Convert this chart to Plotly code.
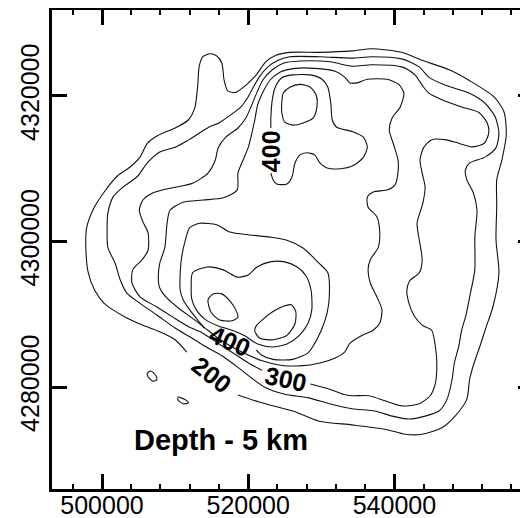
import plotly.graph_objects as go

# ---- data (km) ----
# contour 200 (outermost) – gap where the "200" label sits
c200 = [(518.6,4278.9),(521.6,4277.9),(526.1,4276.7),(529.7,4275.3),(534.2,4274.8),(538.7,4274.2),(541.5,4273.5),(543.8,4273.5),
        (546.5,4274.4),(548.3,4276.0),(549.9,4278.3),(550.3,4281.1),(550.9,4283.3),(551.7,4285.6),(552.5,4288.1),(553.5,4291.1),
        (554.3,4295.7),(553.9,4300.2),(554.0,4304.9),(554.0,4308.5),(554.7,4311.2),(555.3,4314.6),(555.0,4317.8),(553.6,4319.9),
        (550.3,4322.1),(547.5,4323.6),(543.8,4324.9),(541.0,4326.0),(536.9,4326.5),(534.2,4326.2),(529.8,4326.0),(525.7,4326.0),
        (523.8,4325.6),(522.4,4324.7),(521.1,4322.9),(519.7,4321.5),(518.3,4320.5),(517.2,4320.7),(516.7,4322.2),(516.4,4324.5),
        (515.7,4325.5),(514.8,4325.8),(513.8,4325.4),(513.3,4324.1),(513.1,4321.5),(512.7,4318.4),(511.8,4316.7),(510.0,4315.6),
        (507.7,4314.6),(506.2,4313.5),(505.2,4311.6),(503.8,4310.2),(502.1,4309.0),(500.3,4306.8),(498.9,4304.6),(497.9,4301.9),
        (497.8,4298.8),(498.1,4295.8),(499.0,4293.3),(500.3,4291.5),(501.5,4290.6),(503.4,4289.5),(505.6,4288.5),(507.9,4287.6),
        (510.0,4286.5),(511.6,4284.8)]
c200_small_a = [(506.2,4281.9),(506.7,4282.2),(507.4,4281.5),(507.5,4281.0),(507.0,4280.8),(506.3,4281.4),(506.2,4281.9)]
c200_small_b = [(510.4,4278.6),(511.5,4278.2),(511.8,4277.8),(511.1,4277.7),(510.4,4278.2),(510.4,4278.6)]

c250 = [(505.2,4291.5),(507.5,4289.9),(510.0,4288.1),(512.0,4286.9),(514.1,4285.6),(516.4,4284.3),(518.6,4282.7),(520.5,4281.2),
        (522.4,4279.9),(525.0,4279.0),(528.3,4278.5),(531.1,4277.7),(534.2,4277.0),(537.3,4276.7),(539.7,4276.0),(542.0,4275.6),
        (544.2,4276.0),(546.1,4276.7),(547.2,4278.3),(547.9,4281.1),(548.2,4283.3),(548.8,4285.6),(549.2,4287.8),(549.8,4289.9),
        (550.3,4292.4),(551.0,4296.1),(551.0,4300.6),(551.3,4304.3),(550.8,4306.7),(549.9,4308.5),(549.7,4309.8),(550.3,4310.8),
        (552.4,4311.6),(553.9,4312.9),(554.3,4314.9),(553.8,4317.1),(552.4,4319.0),(550.2,4320.4),(546.9,4321.5),(544.7,4322.6),
        (543.4,4324.0),(541.0,4325.1),(536.9,4325.4),(534.2,4325.2),(529.8,4325.4),(525.7,4325.4),(524.1,4324.9),(522.7,4324.0),
        (521.5,4322.6),(520.7,4321.2),(520.0,4319.9),(519.0,4318.5),(517.6,4317.4),(516.0,4316.3),(514.6,4315.7),(511.9,4314.0),
        (510.1,4313.0),(507.9,4312.3),(506.2,4310.8),(504.8,4308.9),(502.9,4307.5),(501.5,4306.1),(500.8,4303.9),(500.7,4302.0),
        (500.8,4299.2),(501.8,4297.0),(502.5,4294.7),(503.4,4292.9),(505.2,4291.5)]

c300 = [(528.5,4280.4),(531.1,4279.7),(533.0,4279.0),(534.2,4278.8),(536.5,4278.8),(538.7,4278.1),(541.0,4277.4),(543.4,4277.7),
        (544.9,4278.8),(545.6,4280.5),(545.8,4283.3),(545.6,4285.6),(545.1,4287.8),(543.8,4288.5),(542.7,4289.8),(542.0,4291.5),
        (541.7,4293.3),(542.1,4294.6),(543.4,4295.7),(543.8,4297.5),(543.4,4300.2),(543.1,4302.5),(543.9,4305.3),(544.2,4307.5),
        (543.8,4309.4),(543.5,4311.2),(544.0,4312.9),(545.1,4314.0),(546.9,4314.0),(548.8,4313.5),(550.6,4313.0),(552.3,4313.5),
        (552.9,4314.9),(552.7,4316.3),(551.6,4317.7),(549.2,4318.5),(546.5,4319.5),(544.7,4320.4),(544.0,4321.2),(542.8,4322.9),
        (541.0,4324.0),(536.9,4324.3),(534.2,4324.1),(531.2,4324.7),(527.1,4324.8),(524.8,4324.5),(523.3,4323.6),(522.0,4322.2),
        (521.2,4320.5),(520.5,4318.8),(519.7,4317.0),(518.6,4315.6),(517.0,4314.4),(515.9,4312.9),(515.5,4311.2),(514.5,4309.4),
        (512.4,4308.0),(509.7,4307.4),(507.0,4306.7),(505.6,4305.7),(505.1,4304.3),(505.6,4302.7),(506.3,4301.2),(506.3,4298.8),
        (505.5,4297.5),(504.2,4296.1),(504.1,4294.3),(505.2,4292.4),(507.5,4291.0),(509.7,4289.6),(512.0,4288.2),(513.8,4287.4),
        (515.9,4286.0),(518.2,4284.5),(520.2,4283.2),(521.9,4282.3)]

c350 = [(533.9,4321.8),(534.9,4321.8),(536.3,4322.3),(539.0,4322.3),(540.6,4321.6),(541.3,4320.4),(540.8,4318.5),(539.7,4317.0),
        (539.3,4315.3),(539.9,4313.3),(540.5,4311.2),(540.5,4309.6),(540.1,4307.8),(539.1,4307.1),(537.1,4306.8),(536.3,4306.1),
        (536.4,4304.7),(537.6,4303.4),(538.0,4301.2),(537.8,4299.2),(536.7,4297.5),(536.4,4296.1),(536.7,4294.3),(537.6,4292.4),
        (538.3,4290.6),(538.0,4288.8),(537.1,4287.8),(535.6,4287.1),(533.9,4286.0),(533.2,4284.8),(531.9,4284.0),(529.8,4283.3),
        (527.1,4282.9),(524.4,4283.0),(521.9,4283.6),(520.0,4284.4),(517.8,4285.5),(515.9,4286.7),(514.1,4288.1),(512.3,4289.5),
        (510.4,4290.9),(508.9,4292.2),(507.9,4293.6),(507.7,4295.1),(507.9,4297.0),(508.6,4299.2),(508.9,4302.5),(509.3,4304.3),
        (511.1,4305.4),(513.8,4305.7),(516.6,4306.0),(518.5,4307.1),(518.6,4309.4),(519.3,4311.2),(520.0,4312.9),(520.5,4314.9),
        (520.9,4316.7),(521.3,4318.8),(522.0,4320.5),(523.0,4322.2),(524.4,4323.3),(526.4,4323.8),(529.1,4323.8),(531.9,4323.4),
        (533.2,4322.6),(533.9,4321.8)]

c400_low = [(521.1,4285.1),(521.8,4284.4),(523.4,4283.8),(526.1,4283.8),(528.2,4284.7),(529.1,4286.0),(530.0,4287.8),(530.8,4290.2),
            (531.1,4292.5),(530.9,4295.7),(529.7,4297.0),(527.5,4299.1),(525.2,4300.2),(523.0,4300.6),(520.2,4300.9),(517.5,4301.3),
            (515.7,4302.3),(513.4,4302.5),(512.0,4301.9),(511.4,4300.2),(510.9,4297.9),(510.7,4295.7),(510.7,4293.3),(511.1,4292.0),
            (512.0,4290.6),(513.1,4289.2),(514.0,4288.1)]
c400_top = [(523.1,4309.4),(523.4,4308.5),(523.9,4307.9),(525.3,4307.9),(526.0,4308.9),(526.4,4310.8),(527.1,4311.9),(528.0,4312.2),
            (529.1,4311.9),(529.8,4310.8),(530.8,4310.1),(532.6,4310.0),(534.3,4310.4),(535.7,4311.5),(536.3,4313.0),(535.7,4314.4),
            (534.3,4315.1),(532.1,4315.7),(531.5,4316.7),(531.3,4319.0),(530.9,4321.2),(530.1,4322.3),(528.5,4322.9),(526.1,4322.9),
            (524.6,4322.5),(523.7,4321.2),(523.3,4319.5),(523.1,4317.0),(523.1,4315.6)]

c450_low = [(512.4,4295.7),(514.4,4296.5),(516.6,4296.1),(518.5,4295.1),(520.0,4295.4),(521.2,4296.5),(523.0,4297.2),(525.0,4297.2),
            (526.7,4296.5),(527.9,4295.3),(528.6,4293.3),(528.7,4290.6),(528.2,4288.8),(527.0,4287.1),(525.3,4285.9),(523.3,4285.5),
            (521.3,4285.9),(519.6,4287.0),(517.8,4287.8),(515.9,4288.4),(514.1,4289.3),(512.9,4290.6),(512.3,4292.0),(512.2,4293.7),
            (512.4,4295.7)]
c450_top = [(524.8,4320.4),(525.7,4321.2),(527.1,4321.6),(528.5,4321.2),(529.3,4320.1),(529.4,4318.5),(528.9,4317.0),(527.5,4316.3),
            (526.1,4316.0),(525.0,4316.4),(524.6,4317.7),(524.6,4319.2),(524.8,4320.4)]

c500_left = [(514.5,4292.0),(515.2,4292.8),(516.4,4292.8),(517.6,4291.7),(518.3,4290.6),(518.6,4289.6),(517.8,4289.1),(516.1,4289.2),
             (514.9,4290.3),(514.5,4292.0)]
c500_right = [(521.1,4288.4),(522.0,4289.3),(523.3,4290.3),(524.8,4291.1),(525.9,4291.3),(526.5,4290.4),(526.4,4288.7),(525.3,4287.1),
              (523.5,4286.5),(521.6,4286.7),(520.9,4287.7),(521.1,4288.4)]

# contour labels: (text, x km, y km, angle)
contour_labels = [("200", 515.1, 4281.7, 38), ("300", 525.2, 4281.1, 12),
                  ("400", 517.5, 4286.3, 23), ("400", 523.1, 4312.4, -90)]

title_text = "Depth - 5 km"
title_pos = (516.3, 4272.7)

x_ticks = [500000, 520000, 540000]
y_ticks = [4280000, 4300000, 4320000]
x_range = [493160, 558960]
y_range = [4265980, 4331820]

lines = [c200, c200_small_a, c200_small_b, c250, c300, c350, c400_low, c400_top,
         c450_low, c450_top, c500_left, c500_right]

fig = go.Figure()
for pts in lines:
    fig.add_trace(go.Scatter(
        x=[p[0] * 1000 for p in pts], y=[p[1] * 1000 for p in pts],
        mode="lines", line=dict(color="#111111", width=1.1, shape="spline", smoothing=0.7),
        hoverinfo="skip", showlegend=False))

lab_font = dict(family="Arial, 'Liberation Sans', sans-serif", size=25, color="black")
for txt, x, y, ang in contour_labels:
    fig.add_annotation(x=x * 1000, y=y * 1000, text="<b>%s</b>" % txt, textangle=ang,
                       showarrow=False, font=lab_font)

fig.add_annotation(x=title_pos[0] * 1000, y=title_pos[1] * 1000, text="<b>%s</b>" % title_text,
                   showarrow=False, font=dict(family="Arial, 'Liberation Sans', sans-serif", size=29, color="black"))

tick_font = dict(family="Arial, 'Liberation Sans', sans-serif", size=25, color="black")
fig.update_layout(
    width=528, height=518,
    margin=dict(l=44, r=3, t=2, b=37, autoexpand=False),
    paper_bgcolor="white", plot_bgcolor="white",
    showlegend=False,
    xaxis=dict(range=x_range, tickvals=x_ticks, ticktext=[str(v) for v in x_ticks], automargin=False,
               ticks="inside", ticklen=15, tickwidth=3, tickcolor="black", ticklabelstandoff=-8,
               showline=True, linewidth=3, linecolor="black", mirror="ticks",
               showgrid=False, zeroline=False, tickfont=tick_font,
               minor=dict(dtick=4000, tick0=500000, ticks="inside", ticklen=5, tickwidth=2,
                          tickcolor="black", showgrid=False)),
    yaxis=dict(range=y_range, tickvals=y_ticks, ticktext=[str(v) for v in y_ticks], automargin=False,
               ticks="inside", ticklen=15, tickwidth=3, tickcolor="black", tickangle=-90,
               showline=True, linewidth=3, linecolor="black", mirror="ticks",
               showgrid=False, zeroline=False, tickfont=tick_font),
)

fig.write_html("out.html")
